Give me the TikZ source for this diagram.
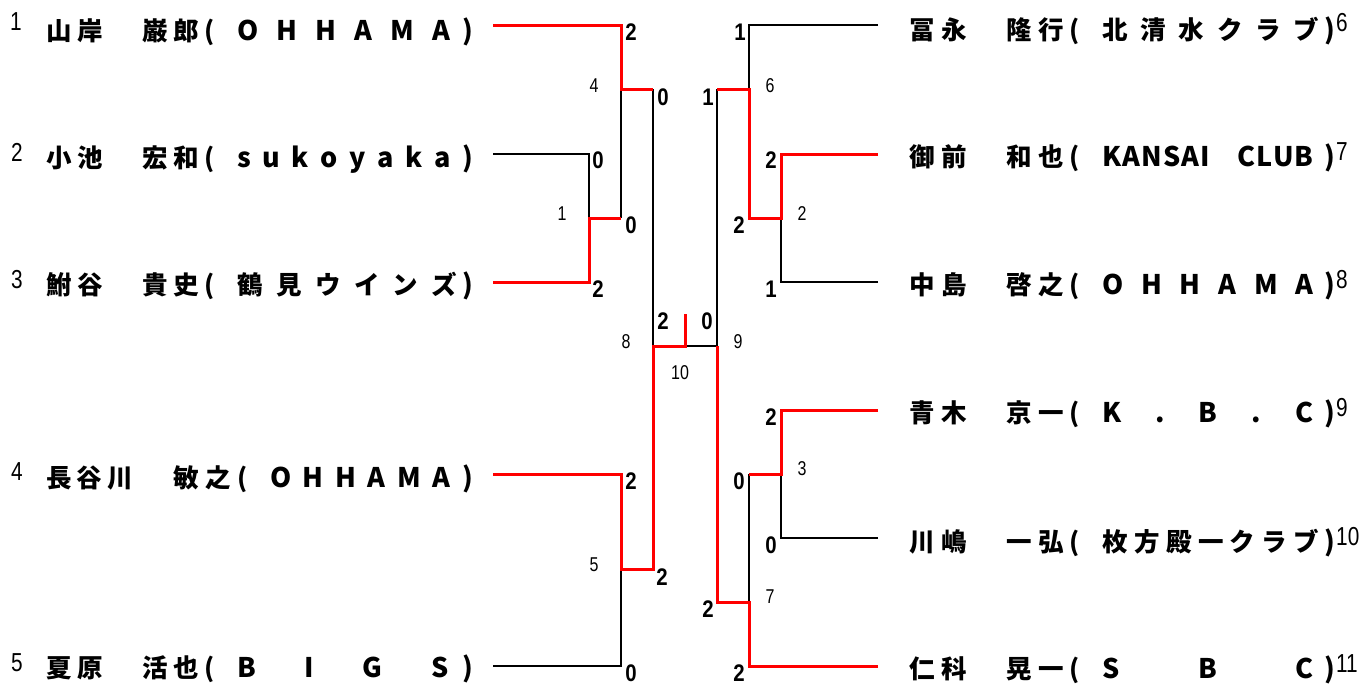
\documentclass[tikz,border=0pt]{standalone}
\usepackage{fontspec}
\newfontfamily\jp{Noto Sans CJK JP}
\newfontfamily\scorefont{Liberation Sans}[FakeStretch=0.85]
\newfontfamily\numfont{Liberation Sans}[FakeStretch=0.8]
\begin{document}
\begin{tikzpicture}[x=1pt,y=-1pt,
  nm/.style={inner sep=0pt, anchor=base west, font=\jp\bfseries\fontsize{25.5}{25.5}\selectfont},
  sc/.style={inner sep=0pt, font=\scorefont\bfseries\fontsize{24}{24}\selectfont},
  mn/.style={inner sep=0pt, font=\numfont\fontsize{20}{20}\selectfont},
  pn/.style={inner sep=0pt, font=\numfont\fontsize{26}{26}\selectfont},
  lose/.style={draw=black, line width=1.4pt},
  win/.style={draw=red, line width=3pt}]
\useasboundingbox (0,0) rectangle (1370,686);
\newcommand{\lat}{\fontsize{27}{27}\selectfont}
% ---------- player numbers ----------
\node[pn] (k1) at (16,22) {1};
\node[pn] (k2) at (17,152) {2};
\node[pn] (k3) at (17,280) {3};
\node[pn] (k4) at (17,472) {4};
\node[pn] (k5) at (17,663) {5};
\node[pn, anchor=west] (k6) at (1336,23) {6};
\node[pn, anchor=west] (k7) at (1336,152) {7};
\node[pn, anchor=west] (k8) at (1336,280) {8};
\node[pn, anchor=west] (k9) at (1336,408) {9};
\node[pn, anchor=west] (k10) at (1336,537) {10};
\node[pn, anchor=west] (k11) at (1336,664) {11};
% ---------- left names ----------
\node[nm] (n1s) at (46,40) {\makebox[57pt][s]{山\hfill 岸}};
\node[nm] (n1g) at (142,40) {\makebox[73pt][s]{巌\hfill 郎\hfill (}};
\node[nm] (n1t) at (237,40) {\lat\makebox[236pt][s]{O\hfill H\hfill H\hfill A\hfill M\hfill A\hspace{12pt})}};
\node[nm] (n2s) at (46,167) {\makebox[57pt][s]{小\hfill 池}};
\node[nm] (n2g) at (142,167) {\makebox[73pt][s]{宏\hfill 和\hfill (}};
\node[nm] (n2t) at (237,167) {\lat\makebox[236pt][s]{s\hfill u\hfill k\hfill o\hfill y\hfill a\hfill k\hfill a\hspace{12pt})}};
\node[nm] (n3s) at (46,294) {\makebox[57pt][s]{鮒\hfill 谷}};
\node[nm] (n3g) at (142,294) {\makebox[73pt][s]{貴\hfill 史\hfill (}};
\node[nm] (n3t) at (237,294) {\makebox[236pt][s]{鶴\hfill 見\hfill ウ\hfill イ\hfill ン\hfill ズ\hspace{5pt}{\lat )}}};
\node[nm] (n4s) at (46,487) {\makebox[87pt][s]{長\hfill 谷\hfill 川}};
\node[nm] (n4g) at (173,487) {\makebox[75pt][s]{敏\hfill 之\hfill (}};
\node[nm] (n4t) at (270,487) {\lat\makebox[203pt][s]{O\hfill H\hfill H\hfill A\hfill M\hfill A\hspace{12pt})}};
\node[nm] (n5s) at (46,677) {\makebox[57pt][s]{夏\hfill 原}};
\node[nm] (n5g) at (142,677) {\makebox[73pt][s]{活\hfill 也\hfill (}};
\node[nm] (n5t) at (237,677) {\lat\makebox[236pt][s]{B\hfill I\hfill G\hfill S\hspace{14pt})}};
% ---------- right names ----------
\node[nm] (n6s) at (909,39) {\makebox[58pt][s]{冨\hfill 永}};
\node[nm] (n6g) at (1006,39) {\makebox[74pt][s]{隆\hfill 行\hfill (}};
\node[nm] (n6t) at (1102,39) {\makebox[233pt][s]{北\hfill 清\hfill 水\hfill ク\hfill ラ\hfill ブ\hspace{5pt}{\lat )}}};
\node[nm] (n7s) at (909,166) {\makebox[58pt][s]{御\hfill 前}};
\node[nm] (n7g) at (1006,166) {\makebox[74pt][s]{和\hfill 也\hfill (}};
\node[nm] (n7t) at (1102,166) {\lat\makebox[233pt][s]{\makebox[108pt][s]{K\hfill A\hfill N\hfill S\hfill A\hfill I}\hfill\makebox[76pt][s]{C\hfill L\hfill U\hfill B}\hspace{11pt})}};
\node[nm] (n8s) at (909,294) {\makebox[58pt][s]{中\hfill 島}};
\node[nm] (n8g) at (1006,294) {\makebox[74pt][s]{啓\hfill 之\hfill (}};
\node[nm] (n8t) at (1102,294) {\lat\makebox[233pt][s]{O\hfill H\hfill H\hfill A\hfill M\hfill A\hspace{11pt})}};
\node[nm] (n9s) at (909,422) {\makebox[58pt][s]{青\hfill 木}};
\node[nm] (n9g) at (1006,422) {\makebox[74pt][s]{京\hfill 一\hfill (}};
\node[nm] (n9t) at (1102,422) {\lat\makebox[233pt][s]{K\hfill .\hfill B\hfill .\hfill C\hspace{11pt})}};
\node[nm] (n10s) at (909,551) {\makebox[58pt][s]{川\hfill 嶋}};
\node[nm] (n10g) at (1006,551) {\makebox[74pt][s]{一\hfill 弘\hfill (}};
\node[nm] (n10t) at (1102,551) {\makebox[233pt][s]{枚\hfill 方\hfill 殿\hfill 一\hfill ク\hfill ラ\hfill ブ\hspace{5pt}{\lat )}}};
\node[nm] (n11s) at (909,678) {\makebox[58pt][s]{仁\hfill 科}};
\node[nm] (n11g) at (1006,678) {\makebox[74pt][s]{晃\hfill 一\hfill (}};
\node[nm] (n11t) at (1102,678) {\lat\makebox[233pt][s]{S\hfill B\hfill C\hspace{11pt})}};
% ---------- bracket coordinates ----------
\coordinate (p1) at (493,25);  \coordinate (a1) at (621,25);
\coordinate (p2) at (493,154); \coordinate (b2) at (589,154);
\coordinate (p3) at (493,282); \coordinate (b3) at (589,282);
\coordinate (m1) at (589,218); \coordinate (m1r) at (621,218);
\coordinate (m4) at (621,89);  \coordinate (m4r) at (653,89);
\coordinate (p4) at (493,474); \coordinate (a4) at (621,474);
\coordinate (p5) at (493,666); \coordinate (a5) at (621,666);
\coordinate (m5) at (621,569); \coordinate (m5r) at (653,569);
\coordinate (f8) at (653,346); \coordinate (fc) at (685,346);
\coordinate (f9) at (717,346); \coordinate (ft) at (685,314);
\coordinate (p6) at (878,25);  \coordinate (c6) at (749,25);
\coordinate (p7) at (878,154); \coordinate (c7) at (781,154);
\coordinate (p8) at (878,282); \coordinate (c8) at (781,282);
\coordinate (m2) at (781,218); \coordinate (m2l) at (749,218);
\coordinate (m6) at (749,89);  \coordinate (m6l) at (717,89);
\coordinate (p9) at (878,410); \coordinate (c9) at (781,410);
\coordinate (p10) at (878,538); \coordinate (c10) at (781,538);
\coordinate (m3) at (781,474); \coordinate (m3l) at (749,474);
\coordinate (p11) at (878,666); \coordinate (c11) at (749,666);
\coordinate (m7) at (749,602); \coordinate (m7l) at (717,602);
% ---------- losing (black) lines ----------
\draw[lose] (p2) -- (b2) -- (m1);
\draw[lose] (m4) -- (m1r);
\draw[lose] (m4r) -- (f8);
\draw[lose] (m5) -- (a5) -- (p5);
\draw[lose] (fc) -- (f9) -- (m6l);
\draw[lose] (p6) -- (c6) -- (m6);
\draw[lose] (p8) -- (c8) -- (m2);
\draw[lose] (p10) -- (c10) -- (m3);
\draw[lose] (m3l) -- (m7);
% ---------- winning (red) lines ----------
\draw[win] (p1) -- (a1) -- (m4) -- (m4r);
\draw[win] (p3) -- (b3) -- (m1) -- (m1r);
\draw[win] (p4) -- (a4) -- (m5) -- (m5r) -- (f8) -- (fc) -- (ft);
\draw[win] (p7) -- (c7) -- (m2) -- (m2l) -- (m6) -- (m6l);
\draw[win] (p9) -- (c9) -- (m3) -- (m3l);
\draw[win] (p11) -- (c11) -- (m7) -- (m7l) -- (f9);
% ---------- scores ----------
\node[sc] (s1) at (631,32) {2};
\node[sc] (s2) at (663,97) {0};
\node[sc] (s3) at (598,160) {0};
\node[sc] (s4) at (631,225) {0};
\node[sc] (s5) at (598,289) {2};
\node[sc] (s6) at (740,32) {1};
\node[sc] (s7) at (708,97) {1};
\node[sc] (s8) at (771,160) {2};
\node[sc] (s9) at (739,225) {2};
\node[sc] (s10) at (771,289) {1};
\node[sc] (s11) at (663,321) {2};
\node[sc] (s12) at (707,321) {0};
\node[sc] (s13) at (631,481) {2};
\node[sc] (s14) at (662,577) {2};
\node[sc] (s15) at (631,673) {0};
\node[sc] (s16) at (771,417) {2};
\node[sc] (s17) at (739,481) {0};
\node[sc] (s18) at (771,545) {0};
\node[sc] (s19) at (708,609) {2};
\node[sc] (s20) at (739,673) {2};
% ---------- match numbers ----------
\node[mn] (g4) at (594,86) {4};
\node[mn] (g1) at (562,214) {1};
\node[mn] (g6) at (770,86) {6};
\node[mn] (g2) at (802,214) {2};
\node[mn] (g8) at (626,342) {8};
\node[mn] (g9) at (738,342) {9};
\node[mn] (g10) at (680,373) {10};
\node[mn] (g3) at (802,469) {3};
\node[mn] (g5) at (594,565) {5};
\node[mn] (g7) at (770,597) {7};
\end{tikzpicture}
\end{document}
